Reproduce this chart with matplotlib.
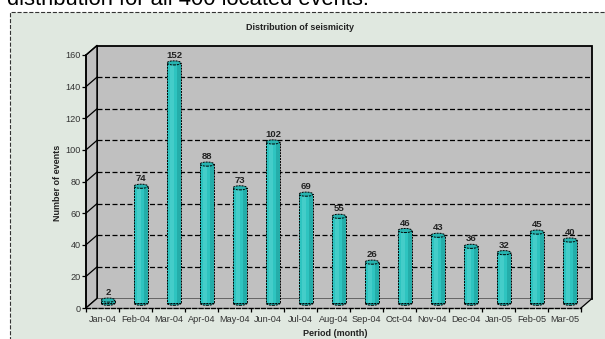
import numpy as np
import matplotlib.pyplot as plt
from matplotlib.patches import Rectangle, Polygon, Ellipse

plt.rcParams['font.family'] = ['Liberation Sans', 'DejaVu Sans']

months = ["Jan-04", "Feb-04", "Mar-04", "Apr-04", "May-04", "Jun-04", "Jul-04", "Aug-04",
          "Sep-04", "Oct-04", "Nov-04", "Dec-04", "Jan-05", "Feb-05", "Mar-05"]
events = [2, 74, 152, 88, 73, 102, 69, 55, 26, 46, 43, 36, 32, 45, 40]
y_ticks = [0, 20, 40, 60, 80, 100, 120, 140, 160]

# depth of the pseudo-3D box, in data units
DX, DY = 0.333, 6.0
bar_w = 0.42
ell_h = 2.6

wall = "#c0c0c0"
teal = "#2ec4c0"
teal_dark = "#1e9f9b"
teal_light = "#5fd8d4"

fig = plt.figure(figsize=(6.05, 3.39), dpi=100)
W, H = 605, 339

# caption line above the chart (cut off at the top edge)
fig.text(7 / W, 1 - 5 / H, "distribution for all 400 located events.", fontsize=15.8,
         ha="left", va="baseline", color="black")

# chart area background
fig.patches.append(Rectangle((10 / W, -0.05), 1.0, 1 - 12 / H + 0.05, transform=fig.transFigure,
                             facecolor="#e0e8e0", edgecolor="#333333", linestyle="--",
                             linewidth=0.8, zorder=-1))

ax = fig.add_axes([86 / W, 31 / H, 495 / W, 253 / H])
ax.set_zorder(1)
ax.set_xlim(-0.5, 14.5)
ax.set_ylim(0, 160)
ax.patch.set_visible(False)

x0, x1 = -0.5, len(months) - 0.5
ymax = y_ticks[-1]

# walls and floor
ax.add_patch(Rectangle((x0 + DX, DY), x1 - x0, ymax, facecolor=wall, edgecolor="black",
                       linewidth=1.3, clip_on=False, zorder=1))
ax.add_patch(Polygon([(x0, 0), (x0, ymax), (x0 + DX, ymax + DY), (x0 + DX, DY)], closed=True,
                     facecolor=wall, edgecolor="black", linewidth=1.0, clip_on=False, zorder=1))
ax.add_patch(Polygon([(x0, 0), (x1, 0), (x1 + DX, DY), (x0 + DX, DY)], closed=True,
                     facecolor=wall, edgecolor="none", clip_on=False, zorder=1))
ax.plot([x1, x1 + DX], [0, DY], color="black", linewidth=0.9, clip_on=False, zorder=2)

# gridlines on the back wall and on the side wall
for v in y_ticks[1:-1]:
    ax.plot([x0 + DX, x1 + DX], [v + DY, v + DY], color="black", linewidth=0.9,
            linestyle=(0, (4, 2)), clip_on=False, zorder=2)
for v in y_ticks:
    ax.plot([x0, x0 + DX], [v, v + DY], color="black", linewidth=0.9, clip_on=False, zorder=2)

# cylinders
xs = np.arange(len(months)) + DX / 2
base = DY / 2
for x, v in zip(xs, events):
    ax.add_patch(Ellipse((x, base), bar_w, ell_h, facecolor=teal_dark, edgecolor="black",
                         linewidth=0.7, linestyle=(0, (2, 1)), clip_on=False, zorder=3))
ax.bar(xs, events, width=bar_w, bottom=base, color=teal, edgecolor="none", zorder=4, clip_on=False)
ax.bar(xs - bar_w * 0.12, events, width=bar_w * 0.3, bottom=base, color=teal_light,
       alpha=0.45, edgecolor="none", zorder=4, clip_on=False)
ax.bar(xs + bar_w * 0.36, events, width=bar_w * 0.28, bottom=base, color=teal_dark,
       alpha=0.6, edgecolor="none", zorder=4, clip_on=False)
ax.bar(xs, events, width=bar_w, bottom=base, fill=False, edgecolor="black", linewidth=0.7,
       linestyle=(0, (2, 1)), zorder=5, clip_on=False)
for x, v in zip(xs, events):
    ax.add_patch(Ellipse((x, v + base), bar_w, ell_h, facecolor="#27b3af", edgecolor="black",
                         linewidth=0.7, linestyle=(0, (2, 1)), clip_on=False, zorder=6))
    ax.text(x, v + base + ell_h / 2 + 0.6, str(v), ha="center", va="bottom", fontsize=6.8,
            fontweight="bold", color="#222222", zorder=7)

# axes, ticks and labels
for side in ["top", "right"]:
    ax.spines[side].set_visible(False)
ax.spines["left"].set_linewidth(1.2)
ax.spines["bottom"].set_linewidth(1.0)
ax.spines["bottom"].set_linestyle((0, (3, 1.5)))
ax.spines["left"].set_zorder(2)
ax.spines["bottom"].set_zorder(2)

ax.set_yticks(y_ticks)
ax.tick_params(axis="y", direction="out", length=3, width=0.9, labelsize=6.6,
               labelcolor="#333333", pad=1)
ax.set_xticks(np.arange(len(months) + 1) - 0.5)
ax.set_xticklabels([])
ax.set_xticks(np.arange(len(months)), minor=True)
ax.set_xticklabels(months, minor=True)
ax.tick_params(axis="x", which="major", direction="out", length=3, width=0.9)
ax.tick_params(axis="x", which="minor", length=0, labelsize=6.6, labelcolor="#333333", pad=5)

fig.text(300 / W, 1 - 28 / H, "Distribution of seismicity", ha="center", va="center",
         fontsize=6.5, fontweight="bold", color="#222222")
fig.text(57 / W, 1 - 183 / H, "Number of events", ha="center", va="center", rotation=90,
         fontsize=6.5, fontweight="bold", color="#222222")
fig.text(335 / W, 1 - 333 / H, "Period (month)", ha="center", va="center",
         fontsize=6.5, fontweight="bold", color="#222222")

fig.savefig("out.png", dpi=100)
